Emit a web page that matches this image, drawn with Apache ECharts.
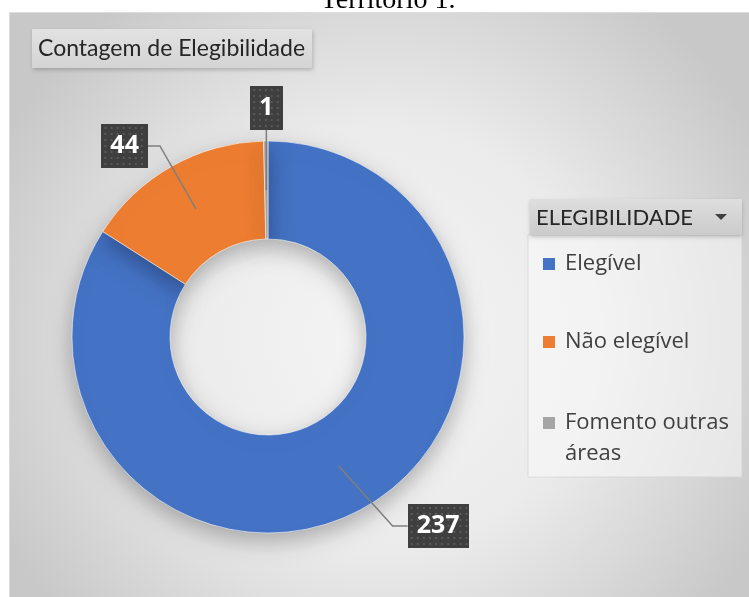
<!DOCTYPE html>
<html><head><meta charset="utf-8">
<script src="https://cdn.jsdelivr.net/npm/echarts@6/dist/echarts.min.js"></script>
<style>html,body{margin:0;padding:0;background:#fff}#c{width:749px;height:597px}</style>
</head><body><div id="c"></div>
<script>
// ---- data ----
const categories = ['Elegível', 'Não elegível', 'Fomento outras áreas'];
const values = [237, 44, 1];
const legendLabels = ['Elegível', 'Não elegível', '\nFomento outras\náreas'];
const chartTitle = 'Território 1.';
const panelTitle = 'Contagem de Elegibilidade';
const legendTitle = 'ELEGIBILIDADE';

// ---- style / layout ----
const colors = ['#4472C4', '#ED7D31', '#A5A5A5'];
const CX = 268, CY = 337, R0 = 98, R1 = 196;
const labelGuides = [
  { bend: [54, 60], run: 15, align: 'left', vAlign: 'middle' },
  { bend: [-36, -63], run: -12, align: 'right', vAlign: 'middle' },
  { bend: [0, -60], run: 0, align: 'center', vAlign: 'bottom' }
];
const legendTops = [248.5, 326.5, 376.5];

function makePattern(w, h) {
  const c = document.createElement('canvas');
  c.width = w; c.height = h;
  const g = c.getContext('2d');
  g.fillStyle = '#3f3f3f'; g.fillRect(0, 0, w, h);
  g.fillStyle = '#5a5a5a';
  for (let y = 3; y < h - 1; y += 6) for (let x = 3; x < w - 1; x += 6) g.fillRect(x, y, 2, 2);
  return c;
}
const patterns = [makePattern(60, 44), makePattern(46, 44), makePattern(33, 44)];

const total = values.reduce((a, b) => a + b, 0);
function midAngle(i) { // clockwise from top, radians
  let s = 0; for (let k = 0; k < i; k++) s += values[k];
  return (s + values[i] / 2) / total * 2 * Math.PI;
}
function anchor(i) {
  const a = midAngle(i), r = (R0 + R1) / 2;
  return [CX + r * Math.sin(a), CY - r * Math.cos(a)];
}

const chart = echarts.init(document.getElementById('c'), null, { renderer: 'canvas' });
const legendText = { fontFamily: 'Open Sans', fontSize: 22, color: '#404040', lineHeight: 31, padding: [0, 0, 0, 5] };
chart.setOption({
  animation: false,
  backgroundColor: '#ffffff',
  graphic: [
    { type: 'rect', z: 0, shape: { x: 9.5, y: 12.5, width: 745, height: 590 },
      style: { fill: { type: 'radial', x: 0.5, y: 0.55, r: 0.72, colorStops: [
        { offset: 0, color: '#f5f5f5' }, { offset: 0.5, color: '#ebebeb' }, { offset: 1, color: '#c8c8c8' }] },
        stroke: '#dcdcdc', lineWidth: 1 } },
    { type: 'text', z: 1, x: 388, y: 15, style: { text: chartTitle, font: '28px "Liberation Serif"', fill: '#000', align: 'center', verticalAlign: 'bottom' } },
    { type: 'rect', z: 1, shape: { x: 32, y: 29, width: 280, height: 39 },
      style: { fill: { type: 'linear', x: 0, y: 0, x2: 0, y2: 1, colorStops: [{ offset: 0, color: '#e2e2e2' }, { offset: 1, color: '#d4d4d4' }] },
        shadowBlur: 4, shadowOffsetX: 1, shadowOffsetY: 2, shadowColor: 'rgba(0,0,0,0.2)' } },
    { type: 'text', z: 2, x: 38, y: 48.5, style: { text: panelTitle, font: '23px Lato', fill: '#262626', verticalAlign: 'middle' } },
    { type: 'rect', z: 1, shape: { x: 528, y: 235, width: 214, height: 242 },
      style: { fill: 'rgba(250,250,250,0.55)', stroke: 'rgba(210,210,210,0.7)', lineWidth: 1 } },
    { type: 'rect', z: 1, shape: { x: 530, y: 199, width: 212, height: 36 },
      style: { fill: { type: 'linear', x: 0, y: 0, x2: 0, y2: 1, colorStops: [{ offset: 0, color: '#dedede' }, { offset: 1, color: '#cbcbcb' }] },
        shadowBlur: 4, shadowOffsetY: 2, shadowColor: 'rgba(0,0,0,0.2)' } },
    { type: 'text', z: 2, x: 536, y: 218, style: { text: legendTitle, font: '22px Lato', fill: '#262626', verticalAlign: 'middle' } },
    { type: 'polygon', z: 2, shape: { points: [[715, 214], [727, 214], [721, 220]] }, style: { fill: '#404040' } }
  ],
  legend: values.map((v, i) => ({
    data: [{ name: categories[i], itemStyle: { color: colors[i], opacity: 1, borderWidth: 0 } }],
    left: 543, top: legendTops[i], orient: 'vertical', padding: 0,
    icon: 'rect', itemWidth: 12, itemHeight: 12, selectedMode: false,
    formatter: () => legendLabels[i], textStyle: legendText
  })),
  series: [{
    type: 'pie', z: 3, center: [CX, CY], radius: [R0, R1], startAngle: 90, clockwise: true,
    avoidLabelOverlap: false, silent: true, emphasis: { disabled: true },
    itemStyle: { borderColor: 'rgba(255,255,255,0.7)', borderWidth: 0.8,
      shadowBlur: 22, shadowOffsetY: 8, shadowColor: 'rgba(0,0,0,0.28)' },
    label: { show: false }, labelLine: { show: false },
    data: categories.map((c, i) => ({ name: c, value: values[i], itemStyle: { color: colors[i] } }))
  }, {
    // overlay: same slices, transparent, carrying the labels and leader lines above the ring
    type: 'pie', z: 5, center: [CX, CY], radius: [R0, R1], startAngle: 90, clockwise: true,
    avoidLabelOverlap: false, silent: true, emphasis: { disabled: true },
    itemStyle: { color: 'rgba(0,0,0,0)', borderWidth: 0 },
    label: { show: true, position: 'outside', color: '#fff', fontFamily: 'Open Sans', fontWeight: 'bold',
      fontSize: 25, lineHeight: 26, padding: [9, 9, 9, 9],
      shadowBlur: 5, shadowOffsetX: 3, shadowOffsetY: 3, shadowColor: 'rgba(0,0,0,0.4)',
      formatter: p => String(p.value) },
    labelLine: { show: true, smooth: false, lineStyle: { color: '#7f7f7f', width: 1.5 } },
    labelLayout: function (p) {
      const i = p.dataIndex, a = anchor(i), g = labelGuides[i];
      const bx = a[0] + g.bend[0], by = a[1] + g.bend[1];
      const ex = bx + g.run;
      return { x: ex, y: by, align: g.align, verticalAlign: g.vAlign,
        labelLinePoints: [[a[0], a[1]], [bx, by], [ex, by]] };
    },
    data: categories.map((c, i) => ({ name: c, value: values[i],
      label: { backgroundColor: { image: patterns[i] } } }))
  }]
});
</script></body></html>
